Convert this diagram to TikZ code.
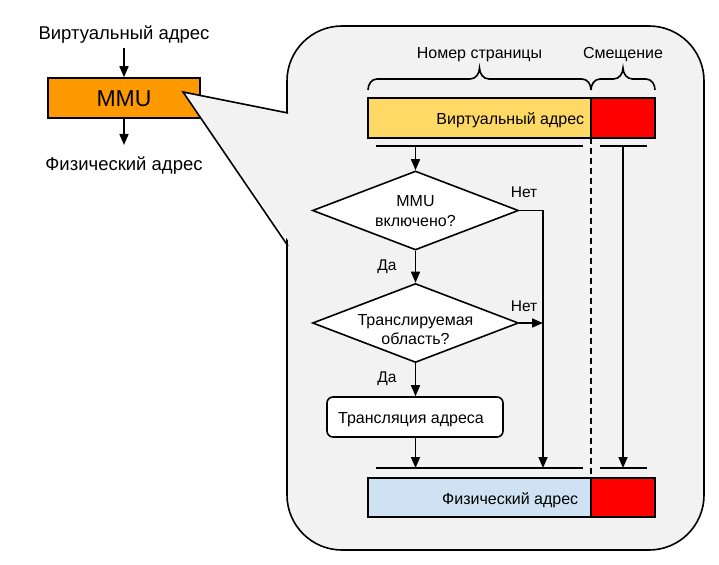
\documentclass[tikz,border=0pt]{standalone}
\usepackage{fontspec}
\setmainfont{Liberation Sans}
\usetikzlibrary{arrows.meta,shapes.geometric,calc}
\definecolor{mmuorange}{HTML}{FF9900}
\definecolor{vyellow}{HTML}{FFD966}
\definecolor{offred}{HTML}{FF0000}
\definecolor{pblue}{HTML}{CFE2F3}
\definecolor{callgray}{HTML}{F2F2F2}
\tikzset{
  lbl/.style={font=\fontsize{16}{20}\selectfont, inner sep=0pt, anchor=base},
  small/.style={font=\fontsize{15.5}{18}\selectfont, inner sep=0pt, anchor=base},
  biglbl/.style={font=\fontsize{18.5}{22}\selectfont, inner sep=0pt, anchor=base},
  dec/.style={diamond, draw, fill=white, minimum width=206pt, minimum height=79pt,
    aspect=2.6, inner sep=0pt},
  bar/.style={draw, minimum height=40pt, inner sep=0pt, outer sep=0pt, anchor=north west},
  arr/.style={-{Triangle[length=11pt,width=9pt]}},
  bus/.style={line width=1.6pt},
}
\begin{document}
\begin{tikzpicture}[x=1pt,y=-1pt,line width=1.6pt]
\useasboundingbox (0,0) rectangle (719,564);
% left part
\node[biglbl] (vtext) at (124,40) {Виртуальный адрес};
\node[draw, fill=mmuorange, minimum width=152pt, minimum height=40pt, inner sep=0pt] (mmu) at (124,98) {};
\node[font=\fontsize{23}{26}\selectfont, inner sep=0pt, anchor=base] (mmut) at (124,106.7) {MMU};
\node[biglbl] (ptext) at (124,170) {Физический адрес};
\coordinate (vin) at (124,48);
\coordinate (pout) at (124,145);
\draw[arr] (vin) -- (mmu.north);
\draw[arr] (mmu.south) -- (pout);
% callout
\draw[fill=callgray, rounded corners=55pt] (287,26) rectangle (704,550);
\fill[callgray] (292,113) -- (183,92) -- (292,246) -- cycle;
\draw[line join=miter] (288,113) -- (183,92) -- (288,246);
% braces
\draw (368,90) to[out=90,in=180] (377,79) -- (470,79) to[out=0,in=-90] (479.5,68)
  to[out=-90,in=180] (489,79) -- (582,79) to[out=0,in=90] (591,90);
\draw (591,90) to[out=90,in=180] (600,79) -- (613.5,79) to[out=0,in=-90] (623,68)
  to[out=-90,in=180] (632.5,79) -- (646,79) to[out=0,in=90] (655,90);
\node[lbl] (pnum) at (479.5,58.3) {Номер страницы};
\node[lbl] (offs) at (623,58.3) {Смещение};
% virtual address bar
\node[bar, fill=vyellow, minimum width=223pt] (vpage) at (368,98) {};
\node[bar, fill=offred, minimum width=64pt] (voff) at (591,98) {};
\node[lbl, anchor=base east] (vlabel) at (585,124.5) {Виртуальный адрес};
% physical address bar
\node[bar, fill=pblue, minimum width=223pt, minimum height=39pt] (ppage) at (368,478) {};
\node[bar, fill=offred, minimum width=64pt, minimum height=39pt] (poff) at (591,478) {};
\node[lbl, anchor=base east] (plabel) at (579,504.5) {Физический адрес};
% dashed separator
\draw[dash pattern=on 6pt off 4pt] (vpage.north east) -- (ppage.south east);
% bus lines
\coordinate (tl1) at (376,146); \coordinate (tr1) at (583,146);
\coordinate (tl2) at (600,146); \coordinate (tr2) at (647,146);
\coordinate (bl1) at (376,468); \coordinate (br1) at (583,468);
\coordinate (bl2) at (600,468); \coordinate (br2) at (647,468);
\draw[bus] (tl1) -- (tr1);
\draw[bus] (tl2) -- (tr2);
\draw[bus] (bl1) -- (br1);
\draw[bus] (bl2) -- (br2);
% flowchart
\node[dec] (d1) at (415.5,210.5) {};
\node[lbl] (d1a) at (415.5,206.7) {MMU};
\node[lbl] (d1b) at (415.5,226.7) {включено?};
\node[dec] (d2) at (415.5,323) {};
\node[lbl] (d2a) at (415.5,325) {Транслируемая};
\node[lbl] (d2b) at (415.5,344) {область?};
\node[draw, fill=white, rounded corners=6pt, minimum width=176pt, minimum height=40pt,
  inner sep=0pt] (trans) at (415,417) {};
\node[lbl] (transt) at (411,423.5) {Трансляция адреса};
\coordinate (top1) at (415.5,146);
\coordinate (bot1) at (415.5,468);
\coordinate (bot2) at (543,468);
\coordinate (top3) at (623,146);
\coordinate (bot3) at (623,468);
\draw[arr] (top1) -- (d1.north);
\draw[arr] (d1.south) -- (d2.north);
\draw[arr] (d2.south) -- (trans.north -| d2.south);
\draw[arr] (trans.south -| bot1) -- (bot1);
\draw[arr] (d1.east) -| (bot2);
\draw[arr] (d2.east) -- (d2.east -| bot2);
\draw[arr] (top3) -- (bot3);
\node[small] (no1) at (524,197.3) {Нет};
\node[small] (no2) at (524,311.7) {Нет};
\node[small] (yes1) at (387,270) {Да};
\node[small] (yes2) at (387,382.7) {Да};
\end{tikzpicture}
\end{document}
